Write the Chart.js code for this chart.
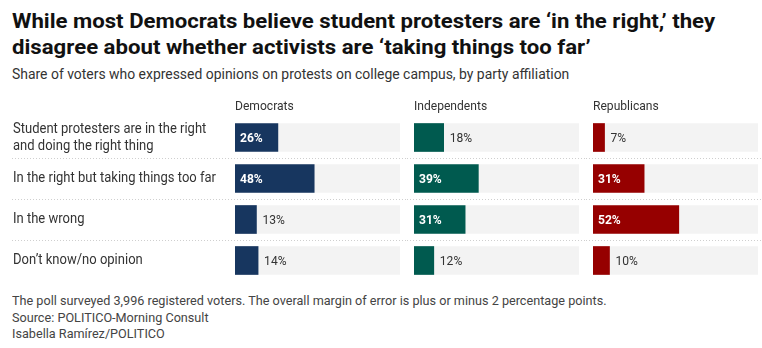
<!DOCTYPE html>
<html><head><meta charset="utf-8">
<script src="https://cdn.jsdelivr.net/npm/chart.js@4.4.1/dist/chart.umd.min.js"></script>
<style>
html,body{margin:0;padding:0;background:#fff}
body{width:762px;height:348px;position:relative;overflow:hidden;font-family:Roboto,sans-serif}
.fit{display:inline-block;white-space:nowrap;transform-origin:0 50%}
#title{position:absolute;left:12px;top:8px;font-size:21px;font-weight:bold;line-height:26px;color:#111}
#sub{position:absolute;left:12px;top:66px;font-size:14px;line-height:17px;color:#333}
#foot{position:absolute;left:12px;top:292px;font-size:13.5px;line-height:16.5px;color:#444}
.c{position:absolute;top:95px;height:190px}
</style>
</head><body>
<div id="title"><span class="fit" data-w="703">While most Democrats believe student protesters are ‘in the right,’ they</span><br><span class="fit" data-ref="0">disagree about whether activists are ‘taking things too far’</span></div>
<div id="sub"><span class="fit" data-w="557">Share of voters who expressed opinions on protests on college campus, by party affiliation</span></div>
<div class="c" style="left:0;width:407px"><canvas id="c0"></canvas></div>
<div class="c" style="left:407px;width:179px"><canvas id="c1"></canvas></div>
<div class="c" style="left:586px;width:176px"><canvas id="c2"></canvas></div>
<div id="foot"><span class="fit" data-w="595">The poll surveyed 3,996 registered voters. The overall margin of error is plus or minus 2 percentage points.</span><br><span class="fit" data-ref="2">Source: POLITICO-Morning Consult</span><br><span class="fit" data-ref="2">Isabella Ramírez/POLITICO</span></div>
<script>
const categories = [
  ["Student protesters are in the right", "and doing the right thing"],
  "In the right but taking things too far",
  "In the wrong",
  "Don’t know/no opinion"
];
const parties = ["Democrats", "Independents", "Republicans"];
const democrats = [26, 48, 13, 14];
const independents = [18, 39, 31, 12];
const republicans = [7, 31, 52, 10];
const scaleMax = 100;

// condense HTML text lines to the reference widths
(function () {
  const spans = Array.from(document.querySelectorAll('.fit'));
  const scales = [];
  spans.forEach((s) => {
    if (s.dataset.w) {
      const k = (+s.dataset.w) / s.offsetWidth;
      scales.push(k);
      s.style.transform = 'scaleX(' + k + ')';
    } else {
      s.style.transform = 'scaleX(' + scales[scales.length - 1] + ')';
    }
  });
})();

const FONT = 'Roboto, sans-serif';
const colors = ["#17365f", "#005a4f", "#960000"];
const seriesList = [democrats, independents, republicans];
const pads = [{left:235,right:7}, {left:7,right:7}, {left:7,right:4}];

// horizontal condensation factor for canvas text
const mctx = document.createElement('canvas').getContext('2d');
mctx.font = '14px ' + FONT;
const SX = 203 / mctx.measureText("In the right but taking things too far").width;

function txt(ctx, t, x, y) {
  ctx.save();
  ctx.translate(x, y);
  ctx.scale(SX, 1);
  ctx.fillText(t, 0, 0);
  ctx.restore();
}

const decorPlugin = {
  id: 'decor',
  beforeDatasetsDraw(chart, args, opts) {
    const ctx = chart.ctx, y = chart.scales.y;
    ctx.save();
    ctx.strokeStyle = '#cfcfcf';
    ctx.lineWidth = 1;
    ctx.setLineDash([1, 2]);
    for (let i = 0; i < categories.length - 1; i++) {
      const py = Math.round((y.getPixelForValue(i) + y.getPixelForValue(i + 1)) / 2) + 0.5;
      ctx.beginPath();
      ctx.moveTo(opts.lineStart, py);
      ctx.lineTo(chart.width, py);
      ctx.stroke();
    }
    ctx.restore();
  },
  afterDatasetsDraw(chart, args, opts) {
    const ctx = chart.ctx, ca = chart.chartArea, y = chart.scales.y;
    const meta = chart.getDatasetMeta(0);
    const vals = chart.data.datasets[0].data;
    ctx.save();
    ctx.textBaseline = 'middle';
    ctx.textAlign = 'left';
    ctx.fillStyle = '#333';
    ctx.font = '13px ' + FONT;
    txt(ctx, opts.header, ca.left, ca.top - 10);
    if (opts.showCategories) {
      ctx.font = '14px ' + FONT;
      ctx.fillStyle = '#333';
      categories.forEach((c, i) => {
        const cy = y.getPixelForValue(i);
        if (Array.isArray(c)) {
          const lh = 17;
          c.forEach((line, j) => txt(ctx, line, 13, cy + (j - (c.length - 1) / 2) * lh));
        } else {
          txt(ctx, c, 13, cy);
        }
      });
    }
    meta.data.forEach((bar, i) => {
      const v = vals[i];
      if (v >= 20) {
        ctx.font = 'bold 13px ' + FONT;
        ctx.fillStyle = '#fff';
        txt(ctx, v + '%', bar.base + 5, bar.y + 1);
      } else {
        ctx.font = '13px ' + FONT;
        ctx.fillStyle = '#333';
        txt(ctx, v + '%', bar.x + 6, bar.y + 1);
      }
    });
    ctx.restore();
  }
};

seriesList.forEach((series, k) => {
  const tracks = categories.map(() => scaleMax);
  new Chart(document.getElementById('c' + k), {
    type: 'bar',
    data: {
      labels: categories,
      datasets: [
        { data: series, backgroundColor: colors[k], barThickness: 28, grouped: false },
        { data: tracks, backgroundColor: '#f3f3f3', barThickness: 28, grouped: false }
      ]
    },
    options: {
      indexAxis: 'y',
      responsive: true,
      maintainAspectRatio: false,
      animation: false,
      events: [],
      layout: { padding: { top: 22, bottom: 4, left: pads[k].left, right: pads[k].right } },
      plugins: {
        legend: { display: false },
        tooltip: { enabled: false },
        title: { display: false },
        decor: { header: parties[k], lineStart: k === 0 ? 12 : 0, showCategories: k === 0 }
      },
      scales: {
        x: { display: false, min: 0, max: scaleMax },
        y: { display: false }
      }
    },
    plugins: [decorPlugin]
  });
});
</script>
</body></html>
